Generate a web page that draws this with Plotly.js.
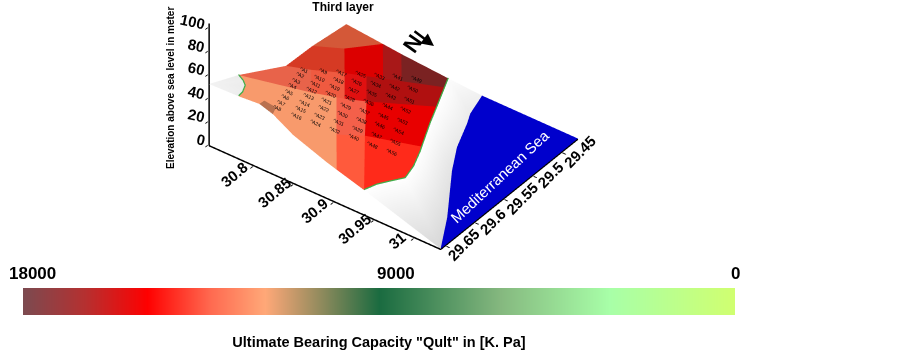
<!DOCTYPE html>
<html><head><meta charset="utf-8">
<script src="https://cdn.plot.ly/plotly-3.0.1.min.js"></script>
<style>html,body{margin:0;padding:0;background:#fff}#g{width:902px;height:352px}</style></head>
<body><div id="g"></div><script>
// vertices of the surface: longitude-like, latitude-like and elevation
const vx=[30.745,30.745,30.745,30.745,30.745,30.745,30.745,30.7904,30.8134,30.8718,30.9138,31.033,30.9223,30.9297,30.945,30.9643,31.0071,31.033,30.9378,30.9036,30.8911,30.8493,30.8243,30.8076,30.7817,30.8946,30.908,30.9275,30.9317,30.9436,30.9508,30.9433,30.9381,30.7711,30.7844,30.8049,30.8343,30.8483,30.8804,30.8164,30.8399,30.8507,30.7797,30.822,30.8342,30.8749,30.8893,30.8196,30.8057,30.761,30.7721,30.78];
const vy=[29.6586,29.608,29.5724,29.5264,29.509,29.4806,29.4224,29.4224,29.4224,29.4224,29.4224,29.4224,29.4545,29.4703,29.5087,29.544,29.6114,29.6586,29.6586,29.6586,29.6586,29.6586,29.6586,29.6586,29.6586,29.4736,29.5038,29.545,29.5537,29.5816,29.6058,29.6212,29.637,29.4619,29.4485,29.5083,29.4828,29.4704,29.4405,29.5816,29.5566,29.5339,29.531,29.4944,29.5629,29.619,29.5901,29.6463,29.6474,29.622,29.6339,29.6494];
const vz=[52,39.5,27.5,14.9,12.2,13.7,9.1,6.2,4.6,1.8,0,0,0,0,0,0,0,0,20.8,27.7,30.3,40.7,50.6,54.2,52.8,5,7,9.5,10,12,14,15,17,12,10,20,14,11,4,36,28,20,24,17,30,33,25,50,52,45,49,52];
const landShade=[.75,.6,1,1,1,1,1,1,1,.95,.7,.5,.6,.6,.55,.45,.3,.2,1,1,1,1,1,1,.65,1,1,1,1,1,1,1,1,1,1,1,1,1,1,1,1,1,1,1,1,1,1,1,1,.65,.6,.65];
// coloured ground patches
const patches=[[5,6,7,34,33],[3,4,5,33,35,42],[33,34,7,36,43,35],[7,8,37,36],[8,9,38,37],[1,2,3,42,39],[42,35,40,44,39],[35,43,41,40],[43,36,37,38,25,41],[1,39,44,45,19,20,21,22,47,48,23,24,51,50,49],[23,48,47,22],[44,40,41,46,45],[45,46,18,19],[41,25,26,27,46],[46,27,28,29,30,31,32,18]];
const patchColors=['#d45838','#d63a24','#dc0000','#a81818','#7a2222','#e8634a','#ef5a40','#e01010','#b01010','#f89a6c','#b9714f','#f4604a','#ff5a3c','#e80000','#ff2a1a'];
const landParts=[[0,1,49,50,51,24],[9,10,12,38],[38,12,13,25],[25,13,14,26],[26,14,15,28,27],[28,15,16,29],[29,16,30],[30,16,17,31],[31,17,32],[32,17,18]];
const seaPart=[11,17,16,15,14,13,12,10];
const edgeLeft=[1,49,50,51,24];
const edgeRight=[9,38,25,26,27,28,29,30,31,32,18];
// colour bar
const barLevels=[18000,17500,17000,16500,16000,15500,15000,14500,14000,13500,13000,12500,12000,11500,11000,10500,10000,9500,9000,8500,8000,7500,7000,6500,6000,5500,5000,4500,4000,3500,3000,2500,2000,1500,1000,500,0];
const barScale=[[0,'#d0ff70'],[.176,'#a8ffa8'],[.33,'#85b87f'],[.5,'#1a6b40'],[.66,'#ffa878'],[.737,'#ff6a50'],[.826,'#ff0000'],[.913,'#b53030'],[1,'#7c4a50']];
// boreholes A1..A56
const boreNames=[['A1','A9','A17','A25','A33','A41','A49'],['A2','A10','A18','A26','A34','A42','A50'],['A3','A11','A19','A27','A35','A43','A51'],['A4','A12','A20','A28','A36','A44','A52'],['A5','A13','A21','A29','A37','A45','A53'],['A6','A14','A22','A30','A38','A46','A54'],['A7','A15','A23','A31','A39','A47','A55'],['A8','A16','A24','A32','A40','A48','A56']];
const boreX=[[30.7754,30.7887,30.802,30.8153,30.8285,30.8418,30.8551],[30.782,30.7958,30.8095,30.8233,30.837,30.8508,30.8645],[30.7886,30.8028,30.8171,30.8313,30.8455,30.8597,30.874],[30.7952,30.8099,30.8246,30.8393,30.854,30.8687,30.8834],[30.8018,30.817,30.8322,30.8473,30.8625,30.8777,30.8929],[30.8084,30.8241,30.8397,30.8554,30.871,30.8867,30.9023],[30.815,30.8311,30.8473,30.8634,30.8795,30.8957,30.9118],[30.8216,30.8382,30.8548,30.8714,30.888,30.9046,30.9212]];
const boreY=[[29.5366,29.5228,29.509,29.4953,29.4815,29.4677,29.4539],[29.5523,29.5391,29.5259,29.5127,29.4995,29.4863,29.4731],[29.568,29.5554,29.5427,29.5301,29.5175,29.5048,29.4922],[29.5837,29.5717,29.5596,29.5476,29.5355,29.5235,29.5114],[29.5993,29.5878,29.5764,29.5649,29.5534,29.542,29.5305],[29.615,29.6041,29.5932,29.5823,29.5715,29.5606,29.5497],[29.6307,29.6204,29.6101,29.5997,29.5894,29.5791,29.5688],[29.6464,29.6367,29.6269,29.6172,29.6075,29.5977,29.588]];
const boreZ=[[25,22.3,19.7,17,14.3,11.7,9],[28.6,25.6,22.6,19.6,16.6,13.6,10.6],[32.1,28.8,25.5,22.1,18.8,15.5,12.1],[35.7,32,28.4,24.7,21,17.4,13.7],[39.3,35.3,31.3,27.3,23.3,19.3,15.3],[42.9,38.5,34.2,29.9,25.6,21.2,16.9],[46.4,41.8,37.1,32.4,27.8,23.1,18.4],[50,45,40,35,30,25,20]];
const xTicks=[30.8,30.85,30.9,30.95,31];
const xTickText=['30.8','30.85','30.9','30.95','31'];
const yTicks=[29.65,29.6,29.55,29.5,29.45];
const yTickText=['29.65','29.6','29.55','29.5','29.45'];
const zTicks=[0,20,40,60,80,100];
const frameX=[30.745,31.033], frameY=[29.6586,29.4224], frameZ=[0,103.5];
const xRange=[30.744,31.034], yRange=[29.6596,29.4214], zRange=[-1,104.5];
const FONT='"Liberation Sans",Arial,sans-serif';

function fan(list){const i=[],j=[],k=[];list.forEach(p=>{for(let n=1;n<p.length-1;n++){i.push(p[0]);j.push(p[n]);k.push(p[n+1]);}});return {i,j,k};}
const flat={ambient:1,diffuse:0,specular:0,roughness:1,fresnel:0};
const pf=fan(patches), faceColors=[];
patches.forEach((p,n)=>{for(let m=1;m<p.length-1;m++)faceColors.push(patchColors[n]);});
const lf=fan(landParts), sf=fan([seaPart]);
const traces=[
 {type:'mesh3d',x:vx,y:vy,z:vz,i:pf.i,j:pf.j,k:pf.k,facecolor:faceColors,flatshading:true,lighting:flat,hoverinfo:'skip',showscale:false},
 {type:'mesh3d',x:vx,y:vy,z:vz,i:lf.i,j:lf.j,k:lf.k,intensity:landShade,cmin:0,cmax:1,colorscale:[[0,'#cdcdcd'],[1,'#ffffff']],showscale:false,lighting:flat,hoverinfo:'skip'},
 {type:'mesh3d',x:vx,y:vy,z:vz,i:sf.i,j:sf.j,k:sf.k,color:'#0000cc',lighting:flat,hoverinfo:'skip'},
];
[edgeLeft,edgeRight].forEach(e=>traces.push({type:'scatter3d',mode:'lines',x:e.map(n=>vx[n]),y:e.map(n=>vy[n]),z:e.map(n=>vz[n]+.4),line:{color:'#3fae49',width:2.5},hoverinfo:'skip',showlegend:false}));
// heavy axis lines along the chart frame
const axisLines=[
 {x:[frameX[0],frameX[1],frameX[1]],y:[frameY[0],frameY[0],frameY[1]],z:[-.5,-.5,-.5]},
 {x:[frameX[0],frameX[0]],y:[frameY[0],frameY[0]],z:[-.5,frameZ[1]]}];
axisLines.forEach(a=>traces.push(Object.assign({type:'scatter3d',mode:'lines',line:{color:'#000',width:3},hoverinfo:'skip',showlegend:false},a)));
traces.push({type:'heatmap',x:barLevels,y:[0,1],z:[barLevels,barLevels],zmin:0,zmax:18000,zsmooth:'best',colorscale:barScale,showscale:false,hoverinfo:'skip',xaxis:'x',yaxis:'y'});

const sceneAnn=[];
boreNames.forEach((row,r)=>row.forEach((name,c)=>sceneAnn.push({x:boreX[r][c],y:boreY[r][c],z:boreZ[r][c],text:'^'+name,showarrow:false,textangle:25,font:{family:FONT,size:5,color:'#000'}})));
xTicks.forEach((t,n)=>sceneAnn.push({x:t,y:frameY[0],z:0,text:xTickText[n],showarrow:false,textangle:-40,xshift:n==4?-17:-19,yshift:n==4?-4:-10,font:{family:FONT,size:15,color:'#000',weight:'bold'}}));
yTicks.forEach((t,n)=>sceneAnn.push({x:frameX[1],y:t,z:0,text:yTickText[n],showarrow:false,textangle:-45,xshift:18,yshift:0,font:{family:FONT,size:15,color:'#000',weight:'bold'}}));
zTicks.forEach(t=>sceneAnn.push({x:frameX[0],y:frameY[0],z:t,text:String(t),showarrow:false,textangle:12,xanchor:'right',xshift:0,yshift:6,font:{family:FONT,size:15,color:'#000',weight:'bold'}}));
sceneAnn.push({x:31.0084,y:29.523,z:0,text:'Mediterranean Sea',showarrow:false,textangle:-43,font:{family:FONT,size:15,color:'#fff'}});

const axis={showgrid:false,zeroline:false,showbackground:false,showspikes:false,showline:false,ticks:'outside',ticklen:4,tickcolor:'#000',tickwidth:2,showticklabels:false,title:{text:''}};
const L=2, ex=.4786*L, ey=-.641*L, ez=.5997*L, cz=-0.5;
const layout={width:902,height:352,margin:{l:0,r:0,t:0,b:0},paper_bgcolor:'#fff',plot_bgcolor:'#fff',showlegend:false,hovermode:false,
 title:{text:'Third layer',x:343/902,xanchor:'center',y:1-7/352,yanchor:'middle',font:{family:FONT,size:12,color:'#000',weight:'bold'}},
 scene:{domain:{x:[0,787/902],y:[82/352,1]},aspectmode:'manual',aspectratio:{x:2.155,y:1.714,z:1.148},
  camera:{projection:{type:'orthographic'},eye:{x:ex,y:ey,z:ez+cz},center:{x:0,y:0,z:cz},up:{x:0,y:0,z:1}},
  xaxis:Object.assign({},axis,{range:xRange,tickvals:xTicks}),
  yaxis:Object.assign({},axis,{range:yRange,tickvals:yTicks}),
  zaxis:Object.assign({},axis,{range:zRange,tickvals:zTicks}),
  annotations:sceneAnn},
 xaxis:{domain:[23/902,735/902],range:[18000,0],showgrid:false,zeroline:false,showticklabels:false,ticks:'',showline:false,fixedrange:true,anchor:'y',
  title:{text:'Ultimate Bearing Capacity "Qult" in [K. Pa]',standoff:21,font:{family:FONT,size:14.5,color:'#000',weight:'bold'}}},
 yaxis:{domain:[37/352,64/352],range:[0,1],showgrid:false,zeroline:false,showticklabels:false,ticks:'',fixedrange:true,anchor:'x'},
 annotations:[
  {xref:'x',yref:'paper',x:18000,y:1-273/352,yanchor:'middle',xshift:9,text:'18000',showarrow:false,font:{family:FONT,size:17,color:'#000',weight:'bold'}},
  {xref:'x',yref:'paper',x:9000,y:1-273/352,yanchor:'middle',xshift:17,text:'9000',showarrow:false,font:{family:FONT,size:17,color:'#000',weight:'bold'}},
  {xref:'x',yref:'paper',x:0,y:1-273/352,yanchor:'middle',text:'0',showarrow:false,font:{family:FONT,size:17,color:'#000',weight:'bold'}},
  {xref:'paper',yref:'paper',x:170/902,y:1-88/352,xanchor:'center',yanchor:'middle',text:'Elevation above sea level in meter',textangle:-90,showarrow:false,font:{family:FONT,size:10,color:'#000',weight:'bold'}},
  {xref:'paper',yref:'paper',x:413/902,y:1-44/352,xanchor:'center',yanchor:'middle',text:'N',textangle:125,showarrow:false,font:{family:FONT,size:22,color:'#000',weight:'bold'}},
  {xref:'paper',yref:'paper',x:434/902,y:1-46/352,text:'',showarrow:true,ax:-21,ay:-16,axref:'pixel',ayref:'pixel',arrowhead:2,arrowsize:1,arrowwidth:2.5,arrowcolor:'#000'}
 ]};
Plotly.newPlot('g',traces,layout,{displayModeBar:false,staticPlot:false});
</script></body></html>
